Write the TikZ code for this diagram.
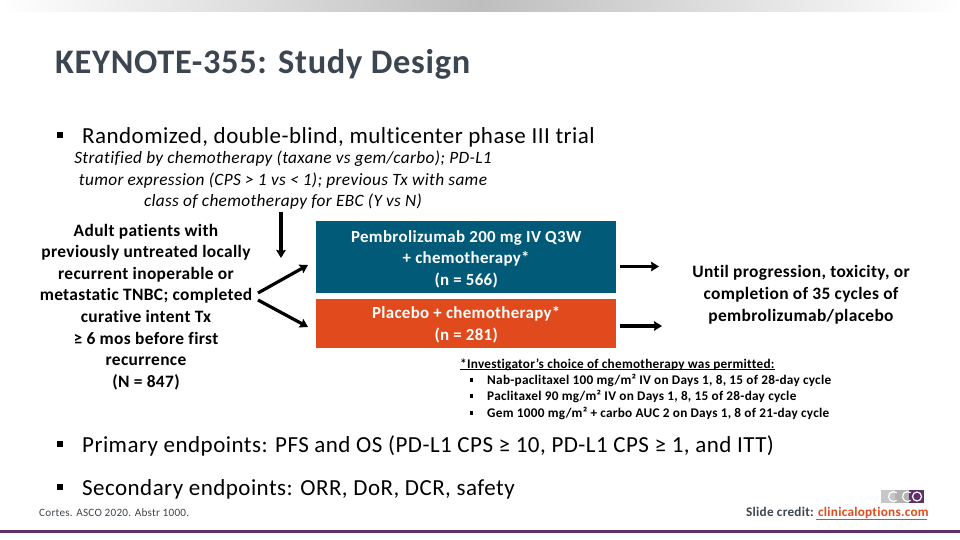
\documentclass[tikz,border=0pt]{standalone}
\usepackage{fontspec}
\setmainfont[LetterSpace=2.0,Ligatures=CommonOff]{Carlito}
\usetikzlibrary{arrows.meta}
\definecolor{teal1}{HTML}{005A78}
\definecolor{orange1}{HTML}{E04A1C}
\definecolor{titlec}{HTML}{3C4650}
\definecolor{purp}{HTML}{5F3168}
\definecolor{barg}{HTML}{BEBEBE}
\newcommand{\fs}[2]{\fontsize{#1}{#2}\selectfont}
\tikzset{
 x=1pt,y=-1pt,
 txt/.style={inner sep=0pt,anchor=west,text=black},
 body/.style={txt,font=\fs{23}{27}},
 ctr/.style={inner sep=0pt,align=center,text=black,font=\fs{17.4}{21.6}\bfseries},
 strat/.style={inner sep=0pt,anchor=center,text=black,font=\fs{17.3}{21}\itshape},
 arm/.style={inner sep=0pt,minimum width=300pt,align=center,text=white,font=\fs{16.9}{21.5}\bfseries},
 foot/.style={txt,font=\fs{13.25}{16}\bfseries},
 conn/.style={line width=3.2pt,-{Stealth[length=8pt,width=9.5pt,inset=1pt]}},
 bigb/.style={fill=black,inner sep=0pt,minimum size=6pt},
 smallb/.style={fill=black,inner sep=0pt,minimum size=3.5pt},
 logoc/.style={white,line width=1.2pt},
}
\begin{document}
\begin{tikzpicture}
\useasboundingbox (0,0) rectangle (960,540);
\fill[white] (0,0) rectangle (960,540);
\shade[left color=white,right color=barg] (0,0) rectangle (480,12);
\shade[left color=barg,right color=white] (480,0) rectangle (960,12);
\node[txt,text=titlec,font=\fs{34.4}{40}\bfseries] (title) at (55,64.500) {KEYNOTE-355: Study Design};
\node[bigb] (b1) at (60,135) {};
\node[body] (t1) at (82,137) {Randomized, double-blind, multicenter phase III trial};
\node[strat] (s1) at (283,159) {Stratified by chemotherapy (taxane vs gem/carbo); PD-L1};
\node[strat] (s2) at (283,181) {tumor expression (CPS > 1 vs < 1); previous Tx with same};
\node[strat] (s3) at (283,202) {class of chemotherapy for EBC (Y vs N)};
\node[ctr,anchor=center] (pt) at (146,307) {Adult patients with\\previously untreated locally\\recurrent inoperable or\\metastatic TNBC; completed\\curative intent Tx\\≥ 6 mos before first\\recurrence\\(N = 847)};
\node[arm,fill=teal1,minimum height=72pt,anchor=north west] (pembro) at (316,221) {\rule{0pt}{15.5pt}Pembrolizumab 200 mg IV Q3W\\+ chemotherapy*\\(n = 566)};
\node[arm,fill=orange1,minimum height=49pt,anchor=north west] (plac) at (316,299) {\rule{0pt}{14pt}Placebo + chemotherapy*\\(n = 281)};
\node[ctr,anchor=center,font=\fs{17.4}{22}\bfseries] (out) at (801,295) {Until progression, toxicity, or\\completion of 35 cycles of\\pembrolizumab/placebo};
\coordinate (a0) at (281,212);
\coordinate (a1) at (281,258);
\coordinate (fa) at (258,293);
\coordinate (fb) at (258,300);
\coordinate (fu) at (308,265);
\coordinate (fd) at (308,327);
\coordinate (e1) at (620,266.500);
\coordinate (e1b) at (659,266.500);
\coordinate (e2) at (620,326);
\coordinate (e2b) at (662,326);
\draw[conn] (a0) -- (a1);
\draw[conn] (fa) -- (fu);
\draw[conn] (fb) -- (fd);
\draw[conn] (e1) -- (e1b);
\draw[conn] (e2) -- (e2b);
\node[txt,font=\fs{13.25}{16}\bfseries] (fn) at (460,364.500) {*Investigator’s choice of chemotherapy was permitted:};
\draw[line width=0.9pt] (fn.west|-0,369.500) -- (fn.east|-0,369.500);
\node[smallb] (d1) at (471.500,380) {};
\node[foot] (f1) at (487,380.500) {Nab-paclitaxel 100 mg/m² IV on Days 1, 8, 15 of 28-day cycle};
\node[smallb] (d2) at (471.500,396) {};
\node[foot] (f2) at (487,396.500) {Paclitaxel 90 mg/m² IV on Days 1, 8, 15 of 28-day cycle};
\node[smallb] (d3) at (471.500,413) {};
\node[foot] (f3) at (487,413.500) {Gem 1000 mg/m² + carbo AUC 2 on Days 1, 8 of 21-day cycle};
\node[bigb] (b2) at (60,444) {};
\node[body] (t2) at (82,446) {Primary endpoints: PFS and OS (PD-L1 CPS ≥ 10, PD-L1 CPS ≥ 1, and ITT)};
\node[bigb] (b3) at (60,487) {};
\node[body] (t3) at (82,489) {Secondary endpoints: ORR, DoR, DCR, safety};
\node[txt,text=titlec,font=\fs{11.2}{13}] (cite) at (39,513) {Cortes. ASCO 2020. Abstr 1000.};
% logo
\fill[black!22] (881,490) rectangle (895,503);
\fill[black!30] (895,490) rectangle (909,503);
\fill[purp] (909,490) rectangle (924,503);
\draw[logoc] (917,496.500) circle (4.500);
\draw[logoc] (896.700,492.700) arc (-50:-310:5 and 5);
\draw[logoc] (910.700,492.700) arc (-50:-310:5 and 5);
\node[txt,text=titlec,font=\fs{13.2}{16}\bfseries] (cr) at (746,513) {Slide credit: \textcolor{orange1}{clinicaloptions.com}};
\draw[orange1,line width=1pt] (816,519.500) -- (927,519.500);
\fill[purp] (0,530) rectangle (960,533);
\end{tikzpicture}
\end{document}
